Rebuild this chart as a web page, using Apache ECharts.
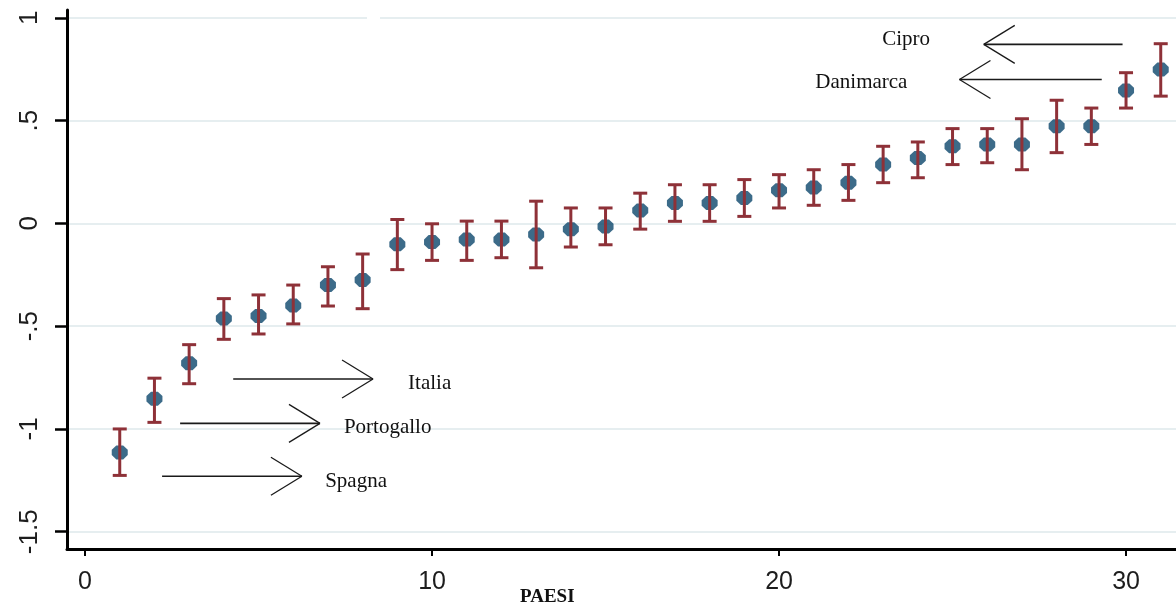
<!DOCTYPE html>
<html><head><meta charset="utf-8">
<script src="https://cdn.jsdelivr.net/npm/echarts@6/dist/echarts.min.js"></script>
<style>html,body{margin:0;padding:0;background:#fff}#c{width:1176px;height:607px}</style>
</head><body><div id="c"></div>
<script>
// ---- data ----
const countries = [1,2,3,4,5,6,7,8,9,10,11,12,13,14,15,16,17,18,19,20,21,22,23,24,25,26,27,28,29,30,31];
const estimate = [-1.114,-0.853,-0.680,-0.463,-0.450,-0.400,-0.300,-0.275,-0.102,-0.091,-0.079,-0.079,-0.054,-0.028,-0.015,0.063,0.099,0.099,0.123,0.161,0.174,0.198,0.286,0.318,0.375,0.384,0.384,0.473,0.473,0.647,0.748];
const lower = [-1.226,-0.968,-0.780,-0.564,-0.538,-0.489,-0.402,-0.415,-0.225,-0.180,-0.180,-0.167,-0.216,-0.115,-0.104,-0.028,0.010,0.010,0.034,0.075,0.088,0.112,0.198,0.222,0.286,0.295,0.261,0.344,0.384,0.561,0.619];
const upper = [-1.000,-0.753,-0.590,-0.366,-0.348,-0.300,-0.211,-0.149,0.019,-0.002,0.011,0.011,0.108,0.075,0.075,0.147,0.188,0.188,0.213,0.237,0.261,0.286,0.375,0.396,0.461,0.461,0.509,0.599,0.561,0.733,0.874];
const yTicks = [-1.5,-1,-0.5,0,0.5,1];
const yTickLabels = ['-1.5','-1','-.5','0','.5','1'];
const xTicks = [0,10,20,30];
const xTickLabels = ['0','10','20','30'];
const xTitle = 'PAESI';
const annText = ['Italia','Portogallo','Spagna','Cipro','Danimarca'];
const arrowFrom = [4.27,2.74,2.22,29.9,29.3];
const arrowTo = [8.30,6.77,6.25,25.9,25.2];
const arrowY = [-0.757,-0.973,-1.230,0.871,0.700];
const textX = [9.31,7.46,6.92,24.35,23.7];
const textY = [-0.78,-0.995,-1.255,0.895,0.686];
const textAlignRight = [false,false,false,true,true];

// ---- chart ----
const chart = echarts.init(document.getElementById('c'), null, {renderer:'canvas'});
const pts = countries.map((x,i)=>[x, estimate[i]]);
const bars = countries.map((x,i)=>[x, lower[i], upper[i]]);
const anns = annText.map((t,i)=>[arrowFrom[i], arrowTo[i], arrowY[i], textX[i], textY[i], i]);

const BAR = '#8e3138', DOT = '#0b466b';

chart.setOption({
  animation:false,
  backgroundColor:'#ffffff',
  grid:{left:67, right:0, top:10, bottom:58},
  xAxis:{
    type:'value', min:-0.52, max:31.44,
    axisLine:{show:true, onZero:false, lineStyle:{color:'#000', width:3}},
    axisTick:{show:true, customValues:xTicks, length:7, lineStyle:{color:'#000', width:2}},
    axisLabel:{customValues:xTicks, fontFamily:'Liberation Sans', fontSize:25, color:'#1d1d1d', margin:21,
      formatter:v=>{const i=xTicks.indexOf(v); return i>=0?xTickLabels[i]:'';}},
    splitLine:{show:false}
  },
  yAxis:{
    type:'value', min:-1.584, max:1.038,
    axisLine:{show:true, onZero:false, lineStyle:{color:'#000', width:3}},
    axisTick:{show:true, customValues:yTicks, length:12, lineStyle:{color:'#000', width:2.5}},
    axisLabel:{customValues:yTicks, rotate:90, fontFamily:'Liberation Sans', fontSize:26, color:'#1d1d1d', margin:24,
      formatter:v=>{const i=yTicks.findIndex(t=>Math.abs(t-v)<1e-9); return i>=0?yTickLabels[i]:'';}},
    splitLine:{show:false}
  },
  graphic:[
    {type:'text', left:520, top:588, style:{text:xTitle, font:'bold 19px "Liberation Serif"', fill:'#111'}},
    {type:'rect', shape:{x:367, y:15, width:13, height:6}, style:{fill:'#fff'}, z:100}
  ],
  series:[
    {
      type:'scatter', data:pts, z:2,
      symbol:'path://M4,0L10,0L14,4L14,9L10,13L4,13L0,9L0,4Z', symbolSize:[16,14],
      itemStyle:{color:DOT},
      markLine:{silent:true, symbol:'none', animation:false, label:{show:false},
        lineStyle:{color:'#e6eef0', width:2, type:'solid'},
        data:yTicks.map(t=>({yAxis:t})), z:0}
    },
    {
      type:'custom', data:bars, z:3,
      renderItem:(params, api)=>{
        const x = api.value(0);
        const lo = api.coord([x, api.value(1)]);
        const hi = api.coord([x, api.value(2)]);
        const hw = 7;
        const st = {stroke:BAR, lineWidth:3};
        return {type:'group', children:[
          {type:'line', shape:{x1:lo[0], y1:lo[1], x2:hi[0], y2:hi[1]}, style:st},
          {type:'line', shape:{x1:lo[0]-hw, y1:lo[1], x2:lo[0]+hw, y2:lo[1]}, style:st},
          {type:'line', shape:{x1:hi[0]-hw, y1:hi[1], x2:hi[0]+hw, y2:hi[1]}, style:st}
        ]};
      }
    },
    {
      type:'custom', data:anns, z:4,
      renderItem:(params, api)=>{
        const a = api.coord([api.value(0), api.value(2)]);
        const b = api.coord([api.value(1), api.value(2)]);
        const t = api.coord([api.value(3), api.value(4)]);
        const idx = api.value(5);
        const dir = b[0] > a[0] ? 1 : -1;
        const st = {stroke:'#1a1a1a', lineWidth:1.6};
        return {type:'group', children:[
          {type:'line', shape:{x1:a[0], y1:a[1], x2:b[0], y2:b[1]}, style:st},
          {type:'line', shape:{x1:b[0], y1:b[1], x2:b[0]-dir*31, y2:b[1]-19}, style:{stroke:'#1a1a1a', lineWidth:1.3}},
          {type:'line', shape:{x1:b[0], y1:b[1], x2:b[0]-dir*31, y2:b[1]+19}, style:{stroke:'#1a1a1a', lineWidth:1.3}},
          {type:'text', x:t[0], y:t[1], style:{text:annText[idx], font:'21px "Liberation Serif"', fill:'#111',
            align:textAlignRight[idx]?'right':'left', verticalAlign:'middle'}}
        ]};
      }
    }
  ]
});
</script></body></html>
